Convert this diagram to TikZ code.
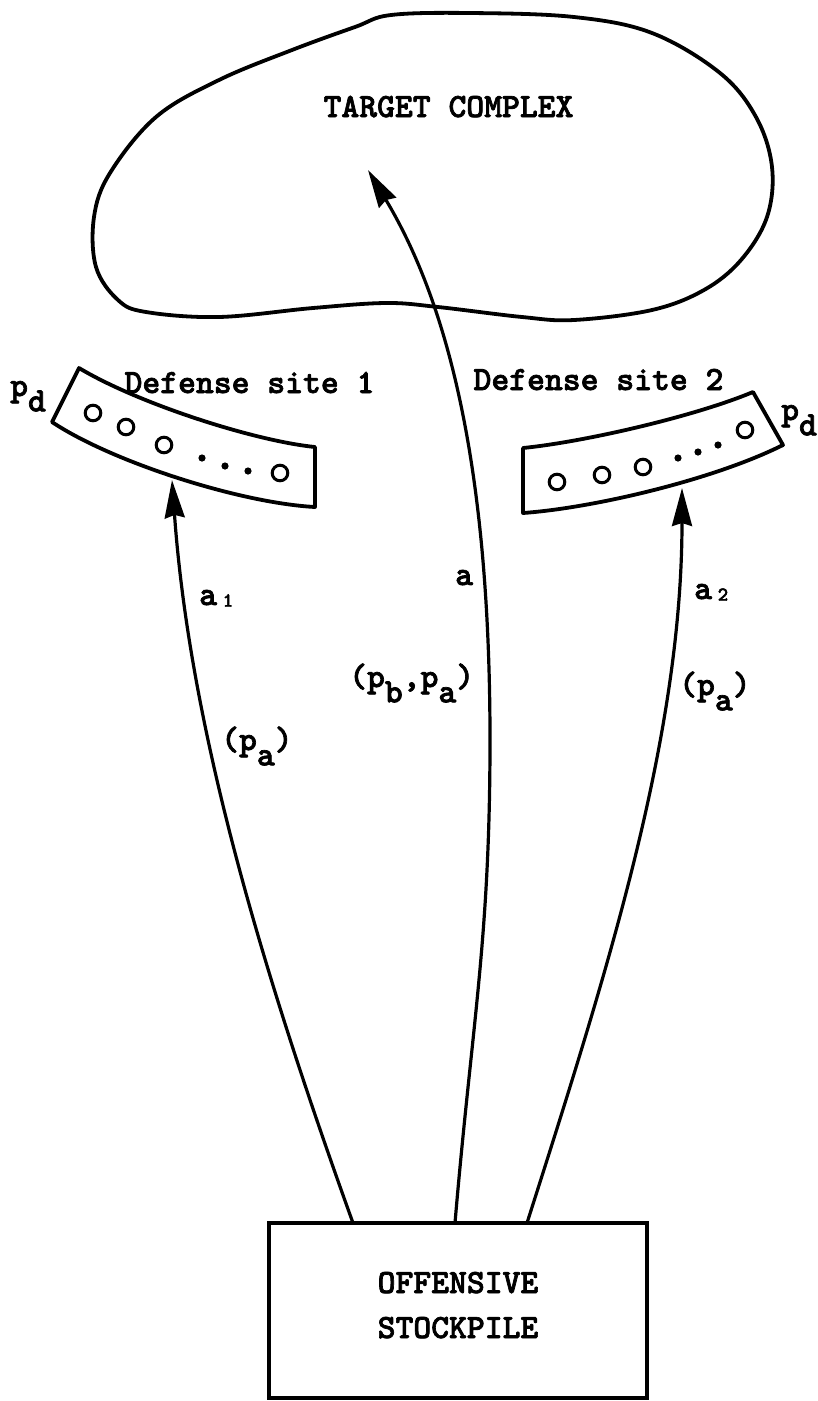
\documentclass[tikz,border=0pt]{standalone}
\usepackage{fontspec}
\newfontfamily\twb[Extension=.otf, FakeBold=2]{lmmonolt10-bold}
\usetikzlibrary{arrows.meta}
\newcommand\lsub[1]{\raisebox{-0.45em}{#1}}
\newcommand\smallidx[1]{\raisebox{-0.05em}{\fontsize{20}{22}\selectfont #1}}
\begin{document}
\begin{tikzpicture}[x=1pt,y=1pt,
  txt/.style={font=\twb\fontsize{34}{36}\selectfont, inner sep=0pt},
  outline/.style={line width=3.8pt, line join=round},
  arr/.style={line width=3.2pt, -{Stealth[length=38pt,width=20pt,inset=3pt]}},
  ring/.style={line width=3pt},
  box/.style={draw, line width=3.4pt, minimum width=378pt, minimum height=175pt, inner sep=0pt}
]
\useasboundingbox (0,0) rectangle (818,-1401);

% target complex
\draw[outline] plot[smooth cycle, tension=0.6] coordinates {
 (391,-15) (470,-13) (574,-17) (652,-33) (720,-73) (756,-117) (772,-167)
 (767,-217) (741,-260) (704,-290) (652,-310) (574,-320) (522,-317)
 (438,-307) (386,-303) (313,-308) (219,-317) (146,-312) (118,-300)
 (96,-267) (94,-217) (110,-173) (156,-117) (219,-80) (292,-50) (355,-27)};
\node[txt, anchor=base] (target) at (448.5,-117) {TARGET COMPLEX};

% defense site 1
\draw[outline] (79,-368) .. controls (139,-404) and (255,-441) .. (315,-447)
  -- (315,-507) .. controls (240,-503) and (112,-462) .. (52,-422) -- cycle;
\foreach \p in {(93,-413),(126,-427),(164,-445),(280,-473)} \draw[ring] \p circle (7.8);
\foreach \p in {(202,-458),(225,-466),(248,-471)} \fill \p circle (3.6);
\node[txt, anchor=base] (site1) at (249.5,-393) {Defense site 1};
\node[txt, anchor=base west] (pd1) at (10,-396) {p\lsub{d}};

% defense site 2
\draw[outline] (523,-448) .. controls (583,-442) and (693,-417) .. (753,-392)
  -- (783,-445) .. controls (713,-480) and (593,-508) .. (523,-513) -- cycle;
\foreach \p in {(557,-482),(602,-475),(643,-467),(745,-430)} \draw[ring] \p circle (7.8);
\foreach \p in {(678,-458),(698,-452),(718,-445)} \fill \p circle (3.6);
\node[txt, anchor=base] (site2) at (598.5,-390) {Defense site 2};
\node[txt, anchor=base west] (pd2) at (781,-420) {p\lsub{d}};

% stockpile
\node[box] (stock) at (458,-1310.5) {};
\node[txt, anchor=base] (off) at (458,-1293) {OFFENSIVE};
\node[txt, anchor=base] (stk) at (458,-1338) {STOCKPILE};

% connector ends
\coordinate (s1) at (353,-1223);
\coordinate (s0) at (455,-1223);
\coordinate (s2) at (527,-1223);
\coordinate (t1) at (172,-480);
\coordinate (t0) at (368,-170);
\coordinate (t2) at (682,-488);

\draw[arr] (s1) .. controls (263,-973) and (190,-730) .. (t1);
\draw[arr] (s0) .. controls (472,-1022) and (490,-940) .. (490,-740)
  .. controls (490,-480) and (452,-310) .. (t0);
\draw[arr] (s2) .. controls (607,-972) and (682,-738) .. (t2);

% labels
\node[txt, anchor=base west] (a1) at (199,-605) {a\,\smallidx{1}};
\node[txt, anchor=base west] (a0) at (455,-585) {a};
\node[txt, anchor=base west] (a2) at (694,-599) {a\,\smallidx{2}};
\node[txt, anchor=base west] (pa1) at (221,-750) {(p\lsub{a})};
\node[txt, anchor=base west] (pba) at (349,-687) {(p\lsub{b},p\lsub{a})};
\node[txt, anchor=base west] (pa2) at (679,-695) {(p\lsub{a})};
\end{tikzpicture}
\end{document}
